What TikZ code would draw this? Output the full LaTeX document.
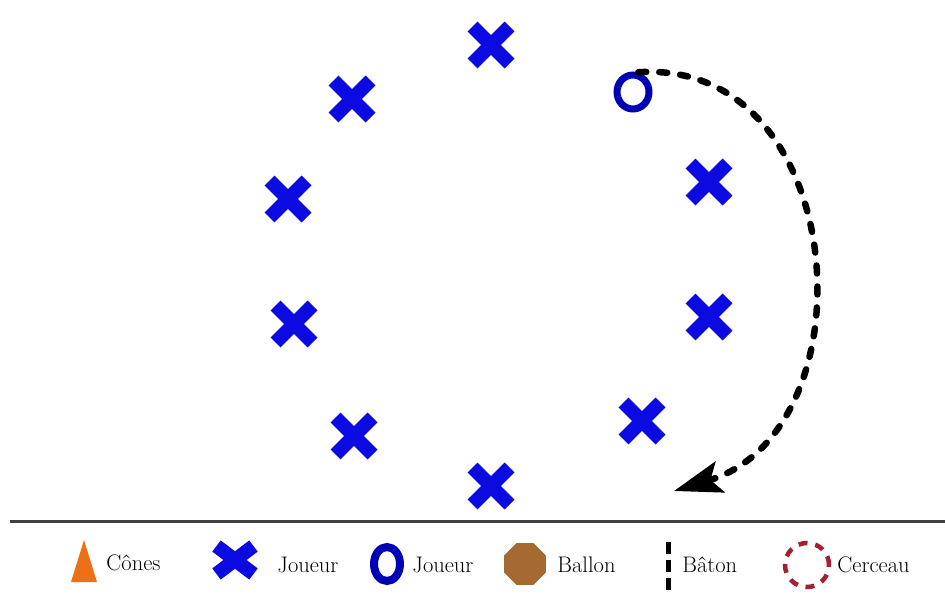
\documentclass[tikz,border=0pt]{standalone}
\usepackage{xcolor}
\usepackage{tikz}
\usetikzlibrary{arrows.meta,shapes.misc,shapes.geometric}

\definecolor{joueurbleu}{RGB}{10,10,225}
\definecolor{cerclebleu}{RGB}{0,0,180}
\definecolor{ballonbrun}{RGB}{165,105,50}
\definecolor{conorange}{RGB}{238,112,22}
\definecolor{cerceaurouge}{RGB}{165,30,50}

\begin{document}
\begin{tikzpicture}[
  x=1pt, y=-1pt,
  joueur/.style={cross out, draw=joueurbleu, line width=14pt,
                 minimum size=37pt, inner sep=0pt, outer sep=0pt},
  rond/.style={ellipse, draw=cerclebleu, line width=7pt,
               minimum width=32pt, minimum height=34pt, inner sep=0pt},
  ballon/.style={regular polygon, regular polygon sides=8, fill=ballonbrun,
                 minimum size=45pt, inner sep=0pt},
  legende/.style={anchor=base west, inner sep=0pt,
                  font=\fontsize{22.5}{26}\selectfont},
  >=Stealth, thick
]
  \useasboundingbox (0,0) rectangle (945,599);

  \node[joueur] (j1) at (491,45)  {};
  \node[joueur] (j2) at (352,99)  {};
  \node[joueur] (j3) at (288,199) {};
  \node[joueur] (j4) at (294,324) {};
  \node[joueur] (j5) at (354,436) {};
  \node[joueur] (j6) at (491,486) {};
  \node[joueur] (j7) at (642,421) {};
  \node[joueur] (j8) at (709,317) {};
  \node[joueur] (j9) at (709,182) {};
  \node[rond]   (o1) at (633,92)  {};

  \coordinate (fin) at (674,491);
  \draw[line width=6.5pt, line cap=round, dash pattern=on 8pt off 13pt,
        -{Stealth[length=48pt, width=32pt, inset=10pt]}]
    (o1.75) .. controls (850,58) and (875,430) .. (fin);

  \coordinate (g) at (10,521);
  \coordinate (d) at (945,521);
  \draw[line width=3pt, black!75] (g) -- (d);

  \fill[conorange] (84,540) -- (97,582) -- (71,582) -- cycle;
  \node[legende] (l1) at (106,570) {Cônes};
  \node[joueur, minimum width=37pt, minimum height=28pt] (s2) at (235,560) {};
  \node[legende] (l2) at (277,572) {Joueur};
  \node[rond, line width=8pt, minimum width=26pt, minimum height=34pt]
    (s3) at (387,564) {};
  \node[legende] (l3) at (412,572) {Joueur};
  \node[ballon]  (s4) at (525,564) {};
  \node[legende] (l4) at (557,572) {Ballon};
  \coordinate (b1) at (668,542);
  \coordinate (b2) at (668,591);
  \draw[line width=5pt, dash pattern=on 12pt off 6pt] (b1) -- (b2);
  \node[legende] (l5) at (682,572) {Bâton};
  \node[circle, draw=cerceaurouge, line width=4.5pt,
        dash pattern=on 9pt off 8pt, minimum size=44pt, inner sep=0pt]
    (s6) at (807,565) {};
  \node[legende] (l6) at (837,572) {Cerceau};
\end{tikzpicture}
\end{document}
